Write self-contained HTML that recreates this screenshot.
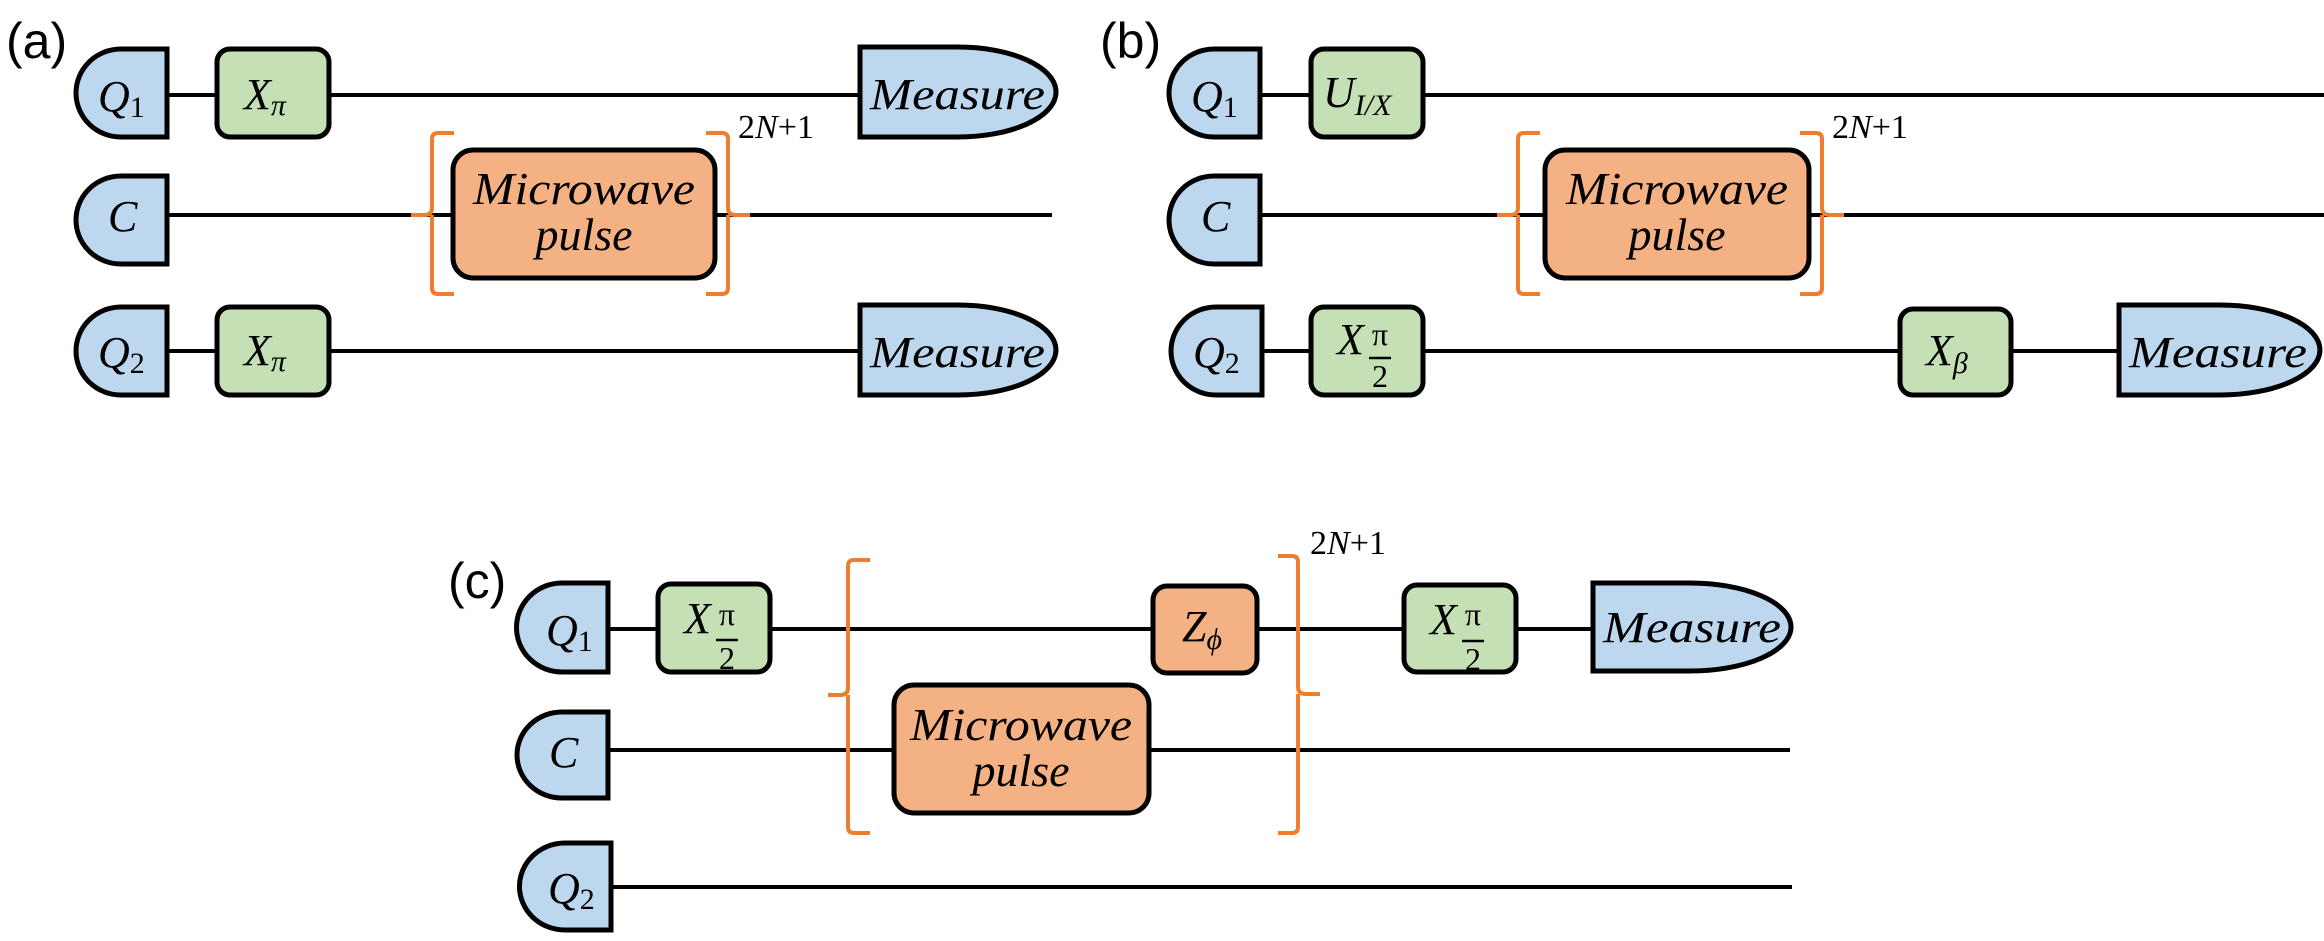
<!DOCTYPE html>
<html><head><meta charset="utf-8"><style>
html,body{margin:0;padding:0;background:#fff}
svg{display:block}
text{font-family:"Liberation Serif",serif;fill:#000}
.it{font-style:italic}
.lab{font-family:"Liberation Sans",sans-serif;font-size:50px}
.w{stroke:#000;stroke-width:4;fill:none}
.q{fill:#bdd7ee;stroke:#000;stroke-width:5}
.g{fill:#c5e0b4;stroke:#000;stroke-width:5}
.o{fill:#f4b183;stroke:#000;stroke-width:5}
.br{stroke:#ed7d31;stroke-width:4;fill:none}
</style></head><body>
<svg width="2324" height="941" viewBox="0 0 2324 941" xmlns="http://www.w3.org/2000/svg">
<!-- ===== (a) ===== -->
<text class="lab" x="6" y="58">(a)</text>
<line class="w" x1="167" y1="95" x2="860" y2="95"/>
<line class="w" x1="167" y1="215" x2="1052" y2="215"/>
<line class="w" x1="167" y1="351" x2="860" y2="351"/>
<path class="q" d="M167 49 H121 A45 44 0 0 0 121 137 H167 Z"/>
<text class="it" x="98" y="111" font-size="44">Q<tspan font-style="normal" font-size="30" dy="6">1</tspan></text>
<rect class="g" x="217" y="49" width="112" height="88" rx="13"/>
<text class="it" x="244" y="109" font-size="44">X<tspan font-size="30" dy="6">π</tspan></text>
<path class="q" d="M860 47 H958 A98 45 0 0 1 958 137 H860 Z"/>
<text class="it" x="870" y="109" font-size="44" textLength="175" lengthAdjust="spacingAndGlyphs">Measure</text>
<path class="q" d="M167 176 H121 A45 44 0 0 0 121 264 H167 Z"/>
<text class="it" x="108" y="231" font-size="44">C</text>
<path class="br" d="M454 133 H438 Q432 133 432 139 V208 Q432 215 424 215 H411 M432 215 V288 Q432 294 438 294 H454"/>
<path class="br" d="M706 133 H722 Q728 133 728 139 V208 Q728 215 736 215 H750 M728 215 V288 Q728 294 722 294 H706"/>
<rect class="o" x="453" y="150" width="262" height="128" rx="20"/>
<text class="it" x="584" y="204" font-size="46" text-anchor="middle" textLength="222" lengthAdjust="spacingAndGlyphs">Microwave</text>
<text class="it" x="584" y="250" font-size="46" text-anchor="middle">pulse</text>
<text x="738" y="138" font-size="34">2<tspan class="it">N</tspan>+1</text>
<path class="q" d="M167 307 H121 A45 44 0 0 0 121 395 H167 Z"/>
<text class="it" x="98" y="367" font-size="44">Q<tspan font-style="normal" font-size="30" dy="6">2</tspan></text>
<rect class="g" x="217" y="307" width="112" height="88" rx="13"/>
<text class="it" x="244" y="365" font-size="44">X<tspan font-size="30" dy="6">π</tspan></text>
<path class="q" d="M860 305 H958 A98 45 0 0 1 958 395 H860 Z"/>
<text class="it" x="870" y="367" font-size="44" textLength="175" lengthAdjust="spacingAndGlyphs">Measure</text>

<!-- ===== (b) ===== -->
<text class="lab" x="1100" y="58">(b)</text>
<line class="w" x1="1260" y1="95" x2="2324" y2="95"/>
<line class="w" x1="1260" y1="215" x2="2324" y2="215"/>
<line class="w" x1="1260" y1="351" x2="2119" y2="351"/>
<path class="q" d="M1260 49 H1214 A45 44 0 0 0 1214 137 H1260 Z"/>
<text class="it" x="1191" y="111" font-size="44">Q<tspan font-style="normal" font-size="30" dy="6">1</tspan></text>
<rect class="g" x="1311" y="49" width="112" height="88" rx="13"/>
<text class="it" x="1323" y="107" font-size="44">U<tspan font-size="30" dy="8">I/X</tspan></text>
<path class="q" d="M1260 176 H1214 A45 44 0 0 0 1214 264 H1260 Z"/>
<text class="it" x="1201" y="231" font-size="44">C</text>
<path class="br" d="M1540 133 H1524 Q1518 133 1518 139 V208 Q1518 215 1510 215 H1497 M1518 215 V288 Q1518 294 1524 294 H1540"/>
<path class="br" d="M1800 133 H1816 Q1822 133 1822 139 V208 Q1822 215 1830 215 H1844 M1822 215 V288 Q1822 294 1816 294 H1800"/>
<rect class="o" x="1545" y="150" width="264" height="128" rx="20"/>
<text class="it" x="1677" y="204" font-size="46" text-anchor="middle" textLength="222" lengthAdjust="spacingAndGlyphs">Microwave</text>
<text class="it" x="1677" y="250" font-size="46" text-anchor="middle">pulse</text>
<text x="1832" y="138" font-size="34">2<tspan class="it">N</tspan>+1</text>
<path class="q" d="M1262 307 H1216 A45 44 0 0 0 1216 395 H1262 Z"/>
<text class="it" x="1193" y="367" font-size="44">Q<tspan font-style="normal" font-size="30" dy="6">2</tspan></text>
<rect class="g" x="1311" y="307" width="112" height="88" rx="13"/>
<text class="it" x="1337" y="354" font-size="44">X</text>
<text x="1380" y="345" font-size="32" text-anchor="middle">π</text>
<line x1="1369" y1="358" x2="1391" y2="358" stroke="#000" stroke-width="2.5"/>
<text x="1380" y="387" font-size="32" text-anchor="middle">2</text>
<rect class="g" x="1900" y="309" width="111" height="86" rx="13"/>
<text class="it" x="1926" y="365" font-size="44">X<tspan font-size="30" dy="8">β</tspan></text>
<path class="q" d="M2119 305 H2220 A100 45 0 0 1 2220 395 H2119 Z"/>
<text class="it" x="2129" y="367" font-size="44" textLength="178" lengthAdjust="spacingAndGlyphs">Measure</text>

<!-- ===== (c) ===== -->
<text class="lab" x="448" y="598">(c)</text>
<line class="w" x1="608" y1="629" x2="1593" y2="629"/>
<line class="w" x1="608" y1="750" x2="1790" y2="750"/>
<line class="w" x1="611" y1="887" x2="1792" y2="887"/>
<path class="q" d="M608 583 H562 A45 44 0 0 0 562 672 H608 Z"/>
<text class="it" x="546" y="645" font-size="44">Q<tspan font-style="normal" font-size="30" dy="6">1</tspan></text>
<rect class="g" x="658" y="584" width="112" height="88" rx="13"/>
<text class="it" x="684" y="633" font-size="44">X</text>
<text x="727" y="625" font-size="32" text-anchor="middle">π</text>
<line x1="716" y1="640" x2="738" y2="640" stroke="#000" stroke-width="2.5"/>
<text x="727" y="669" font-size="32" text-anchor="middle">2</text>
<rect class="o" x="1153" y="586" width="104" height="87" rx="14"/>
<text class="it" x="1182" y="641" font-size="44">Z<tspan font-size="30" dy="8">ϕ</tspan></text>
<rect class="g" x="1404" y="585" width="112" height="87" rx="13"/>
<text class="it" x="1430" y="634" font-size="44">X</text>
<text x="1473" y="625" font-size="32" text-anchor="middle">π</text>
<line x1="1462" y1="641" x2="1484" y2="641" stroke="#000" stroke-width="2.5"/>
<text x="1473" y="670" font-size="32" text-anchor="middle">2</text>
<path class="q" d="M1593 583 H1690 A101 44 0 0 1 1690 671 H1593 Z"/>
<text class="it" x="1603" y="642" font-size="44" textLength="178" lengthAdjust="spacingAndGlyphs">Measure</text>
<path class="q" d="M608 712 H562 A45 43 0 0 0 562 798 H608 Z"/>
<text class="it" x="549" y="767" font-size="44">C</text>
<path class="q" d="M611 843 H565 A45 43 0 0 0 565 930 H611 Z"/>
<text class="it" x="548" y="903" font-size="44">Q<tspan font-style="normal" font-size="30" dy="6">2</tspan></text>
<path class="br" d="M870 560 H854 Q848 560 848 566 V688 Q848 695 840 695 H828 M848 695 V827 Q848 833 854 833 H870"/>
<path class="br" d="M1278 556 H1292 Q1298 556 1298 562 V687 Q1298 694 1306 694 H1320 M1298 694 V827 Q1298 833 1292 833 H1278"/>
<rect class="o" x="894" y="685" width="255" height="128" rx="20"/>
<text class="it" x="1021" y="740" font-size="46" text-anchor="middle" textLength="222" lengthAdjust="spacingAndGlyphs">Microwave</text>
<text class="it" x="1021" y="786" font-size="46" text-anchor="middle">pulse</text>
<text x="1310" y="554" font-size="34">2<tspan class="it">N</tspan>+1</text>
</svg>
</body></html>
